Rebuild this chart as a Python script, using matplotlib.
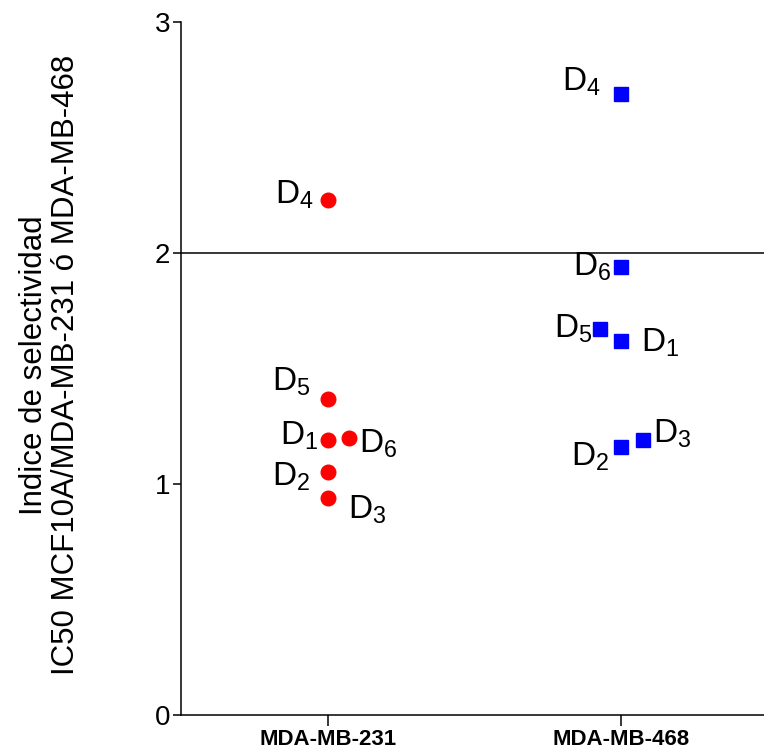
import matplotlib.pyplot as plt

plt.rcParams['font.family'] = ['Liberation Sans', 'DejaVu Sans']
plt.rcParams['mathtext.fontset'] = 'custom'
plt.rcParams['mathtext.rm'] = 'Liberation Sans'

cell_lines = ["MDA-MB-231", "MDA-MB-468"]
compounds = ["D1", "D2", "D3", "D4", "D5", "D6"]
si_231 = [1.19, 1.05, 0.94, 2.23, 1.37, 1.20]
si_468 = [1.62, 1.16, 1.19, 2.69, 1.67, 1.94]
# small horizontal jitter so overlapping points stay visible
jitter_231 = [0, 0, 0, 0, 0, 0.072]
jitter_468 = [0, 0, 0.075, 0, -0.072, 0]

# label offsets in pixels (dx, dy), per compound
offs_231 = [(-10, 4), (-18, -4), (20, -12), (-14, 5), (-18, 17), (10, -6)]
offs_468 = [(20, -2), (-12, -10), (10, 6), (-20, 12), (-8, 0), (-10, 0)]

fig = plt.figure(figsize=(7.64, 7.53), dpi=100)
ax = fig.add_axes([0.237, 0.0505, 0.763, 0.9203])

groups = [(si_231, jitter_231, offs_231, 'o', '#ff0000'),
          (si_468, jitter_468, offs_468, 's', '#0000ff')]
for i, (vals, jit, offs, mk, col) in enumerate(groups):
    xs = [i + j for j in jit]
    ax.plot(xs, vals, ls='none', marker=mk, ms=10.5, color=col, mec=col)
    for name, x, y, (dx, dy) in zip(compounds, xs, vals, offs):
        label = r"$\mathregular{D_%s}$" % name[1:]
        ax.annotate(label, (x, y), xytext=(dx, dy), textcoords='offset pixels',
                    ha='right' if dx < 0 else 'left', va='center', fontsize=24)

ax.axhline(2, color='black', lw=1.1)

ax.set_xlim(-0.502, 1.488)
ax.set_ylim(0, 3)
ax.set_yticks([0, 1, 2, 3])
ax.set_xticks([0, 1])
ax.set_xticklabels(cell_lines, fontsize=16, fontweight='bold')
ax.tick_params(axis='y', labelsize=20, length=6, width=1.1, pad=2)
ax.tick_params(axis='x', length=8, width=1.1, pad=2)
for s in ['top', 'right']:
    ax.spines[s].set_visible(False)
for s in ['left', 'bottom']:
    ax.spines[s].set_linewidth(1.1)

fig.text(50 / 764, 1 - 365 / 753,
         "Indice de selectividad\nIC50 MCF10A/MDA-MB-231 ó MDA-MB-468",
         rotation=90, ha='center', va='center', multialignment='center',
         fontsize=22.5, linespacing=1.12)

fig.savefig("out.png", dpi=100)
